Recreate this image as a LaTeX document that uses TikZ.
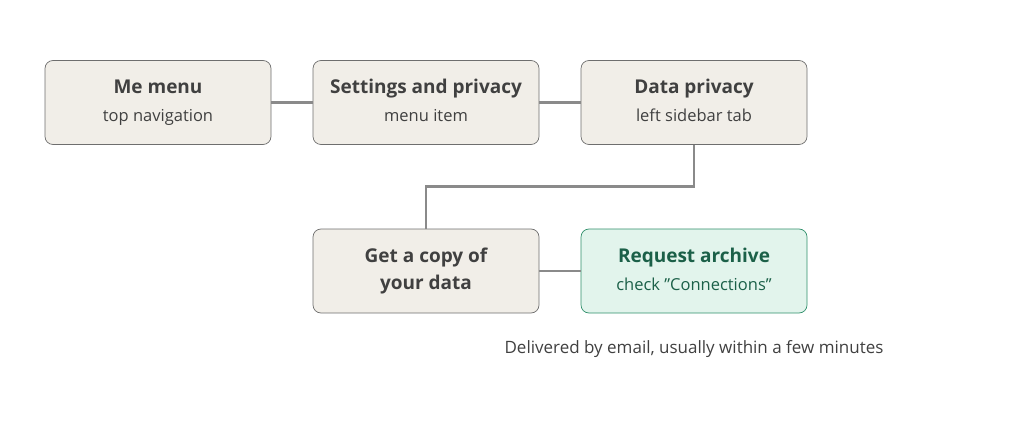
\documentclass[tikz,border=0pt]{standalone}
\usepackage{fontspec}
\setmainfont{Open Sans}
\definecolor{boxfill}{HTML}{F1EEE8}
\definecolor{boxline}{HTML}{6E6E6E}
\definecolor{txt}{HTML}{404040}
\definecolor{gfill}{HTML}{E2F4EC}
\definecolor{gline}{HTML}{2F8F6A}
\definecolor{gtxt}{HTML}{1B6048}
\definecolor{conn}{HTML}{8A8A8A}
\tikzset{
 stepbox/.style={draw=boxline,fill=boxfill,rounded corners=8pt,minimum width=226pt,minimum height=84pt,align=center,text=txt,line width=0.7pt},
 gbox/.style={stepbox,draw=gline,fill=gfill,text=gtxt},
 conn/.style={draw=conn,line width=2.2pt}
}
\newcommand{\ttlf}{\fontsize{19}{27}\selectfont\bfseries}
\newcommand{\subf}{\fontsize{16.5}{27}\selectfont\mdseries}
\begin{document}
\begin{tikzpicture}[x=1pt,y=-1pt]
\useasboundingbox (0,0) rectangle (1024,422);
\node[stepbox] (me) at (158,102.5) {\ttlf\strut Me menu\\\subf\strut top navigation};
\node[stepbox] (set) at (426,102.5) {\ttlf\strut Settings and privacy\\\subf\strut menu item};
\node[stepbox] (dp) at (694,102.5) {\ttlf\strut Data privacy\\\subf\strut left sidebar tab};
\node[stepbox,font=\fontsize{19}{27}\selectfont\bfseries] (get) at (426,271) {\strut Get a copy of\\\strut your data};
\node[gbox] (req) at (694,271) {\ttlf\strut Request archive\\\subf\strut check {\char34}Connections{\char34}};
\coordinate (e1) at (694,186.5);
\coordinate (e2) at (426,186.5);
\draw[conn] (me) -- (set);
\draw[conn] (set) -- (dp);
\draw[conn] (dp.south) -- (e1) -- (e2) -- (get.north);
\draw[conn] (get) -- (req);
\node[text=txt,font=\fontsize{17}{20}\selectfont] (note) at (694,349) {Delivered by email, usually within a few minutes};
\end{tikzpicture}
\end{document}
